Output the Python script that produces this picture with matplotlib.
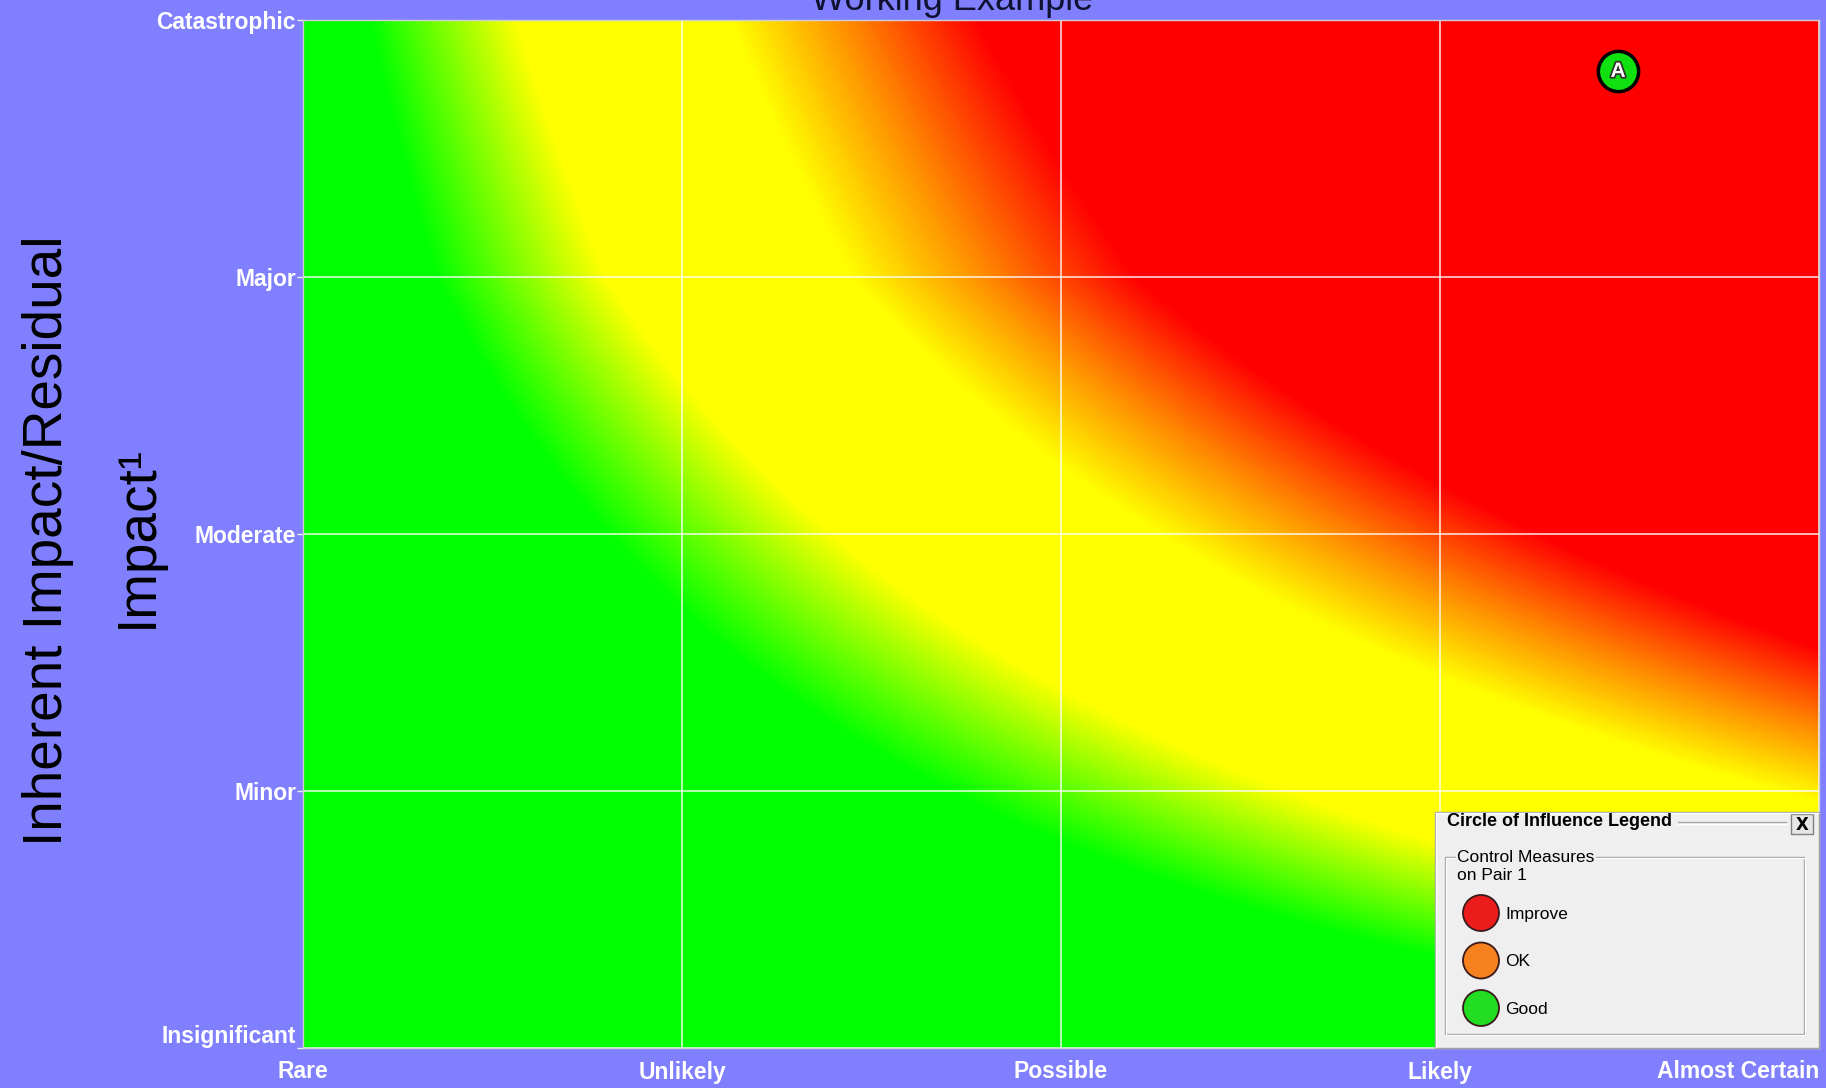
import numpy as np
import matplotlib
matplotlib.use("Agg")
import matplotlib.pyplot as plt
from matplotlib.colors import LinearSegmentedColormap, Normalize
from matplotlib.patches import Rectangle, Circle
import matplotlib.patheffects as pe
from matplotlib import font_manager

# ---------------- data ----------------
likelihood_labels = ["Rare", "Unlikely", "Possible", "Likely", "Almost Certain"]
impact_labels = ["Insignificant", "Minor", "Moderate", "Major", "Catastrophic"]
likelihood_scores = [1, 2, 3, 4, 5]
impact_scores = [1, 2, 3, 4, 4.6]

point_labels = ["A"]
point_likelihood = [3.47]
point_impact = [3.8]

legend_labels = ["Improve", "OK", "Good"]
legend_colors = ["#ec1c1c", "#f5821e", "#22dd22"]

# risk score stops -> colours
score_stops = [1, 5.4, 7.2, 9.8, 11.2, 12.8, 25]
score_colors = ["#00ff00", "#00ff00", "#ffff00", "#ffff00", "#ff8c00", "#ff0000", "#ff0000"]

# --------------------------------------
names = {f.name for f in font_manager.fontManager.ttflist}
narrow = "Liberation Sans Narrow" if "Liberation Sans Narrow" in names else "Liberation Sans"
plt.rcParams["font.family"] = ["Liberation Sans", "DejaVu Sans"]

W, H = 1826, 1088
BG = "#8080ff"
fig = plt.figure(figsize=(W / 100, H / 100), dpi=100, facecolor=BG)

ax = fig.add_axes([303 / W, 1 - 1048 / H, 1516 / W, 1028 / H])
risk = np.outer(impact_scores, likelihood_scores).astype(float)
vmin, vmax = score_stops[0], score_stops[-1]
cmap = LinearSegmentedColormap.from_list(
    "risk", [((s - vmin) / (vmax - vmin), c) for s, c in zip(score_stops, score_colors)], N=512)
n = len(likelihood_scores)
ax.imshow(risk, cmap=cmap, norm=Normalize(vmin, vmax), origin="lower",
          extent=[-0.5, n - 0.5, -0.5, n - 0.5], interpolation="bilinear",
          interpolation_stage="data", aspect="auto")
ax.set_xlim(0, n - 1)
ax.set_ylim(0, n - 1)

ax.set_xticks(range(n))
ax.set_xticklabels(likelihood_labels)
ax.set_yticks(range(n))
ax.set_yticklabels(impact_labels)
ax.tick_params(axis="x", length=0, pad=9, labelsize=16.5, labelcolor="white")
ax.tick_params(axis="y", length=4, width=1, color="#e8f0e8", pad=1, labelsize=16.5,
               labelcolor="white")
for t in ax.get_xticklabels() + ax.get_yticklabels():
    t.set_fontweight("bold")
ax.get_xticklabels()[-1].set_horizontalalignment("right")
ax.get_yticklabels()[0].set_verticalalignment("bottom")

ax.grid(True, color="white", linewidth=1.1, alpha=0.9)
for s in ax.spines.values():
    s.set_color("#d0d0d0")
    s.set_linewidth(1)

# point marker
for lab, px, py in zip(point_labels, point_likelihood, point_impact):
    ax.plot(px, py, "o", ms=29, mfc="#10e010", mec="black", mew=2.5, zorder=5)
    ax.text(px, py, lab, color="white", fontsize=15, fontweight="bold", ha="center",
            va="center", zorder=6,
            path_effects=[pe.withStroke(linewidth=2.5, foreground="#303030")])

# titles / axis label
fig.text(952 / W, 1 - 10 / H, "Working Example", ha="center", va="baseline",
         fontsize=26, color="#101030")
fig.text(62 / W, 1 - 541 / H, "Inherent Impact/Residual", rotation=90,
         rotation_mode="anchor", ha="center", va="baseline", fontsize=39.5, color="black")
fig.text(152 / W, 1 - 536 / H, "Impact\u00b9", rotation=90,
         rotation_mode="anchor", ha="center", va="baseline", fontsize=39.5, color="black")

# ---------------- legend panel (pixel coordinates overlay) ----------------
ov = fig.add_axes([0, 0, 1, 1], zorder=10)
ov.set_xlim(0, W)
ov.set_ylim(H, 0)
ov.axis("off")

ov.add_patch(Rectangle((1435, 812), 384, 236, facecolor="#efefef", edgecolor="#a0a0a0", lw=1))
ov.plot([1436, 1436], [813, 1047], color="white", lw=1)
ov.plot([1436, 1818], [813, 813], color="white", lw=1)
ov.text(1447, 822, "Circle of Influence Legend", fontsize=13, fontweight="bold",
        ha="left", va="center", color="black")
ov.plot([1678, 1786], [822, 822], color="#a8a8a8", lw=1)
ov.plot([1678, 1786], [823.5, 823.5], color="white", lw=1)
ov.add_patch(Rectangle((1791, 814), 22, 20, facecolor="#e6e6e6", edgecolor="#808080", lw=1))
ov.text(1802, 824.5, "X", fontsize=12, fontweight="bold", ha="center", va="center",
        color="black", family="DejaVu Sans")

ov.add_patch(Rectangle((1445, 857), 359, 177, facecolor="none", edgecolor="#a8a8a8", lw=1))
ov.add_patch(Rectangle((1446, 858), 359, 177, facecolor="none", edgecolor="white", lw=0.8))
ov.text(1457, 857, "Control Measures", fontsize=12.5, family=narrow, ha="left",
        va="center", color="black",
        bbox=dict(facecolor="#efefef", edgecolor="none", pad=1))
ov.text(1457, 876, "on Pair 1", fontsize=12.5, family=narrow, ha="left",
        va="center", color="black")

for i, (lab, col) in enumerate(zip(legend_labels, legend_colors)):
    cy = 913 + i * 47.5
    ov.add_patch(Circle((1481, cy), 18, facecolor=col, edgecolor="#3a1a1a", lw=1.3))
    ov.text(1505, cy + 1, lab, fontsize=12.5, family=narrow, ha="left", va="center",
            color="black")

fig.savefig("out.png", dpi=100, facecolor=BG)
